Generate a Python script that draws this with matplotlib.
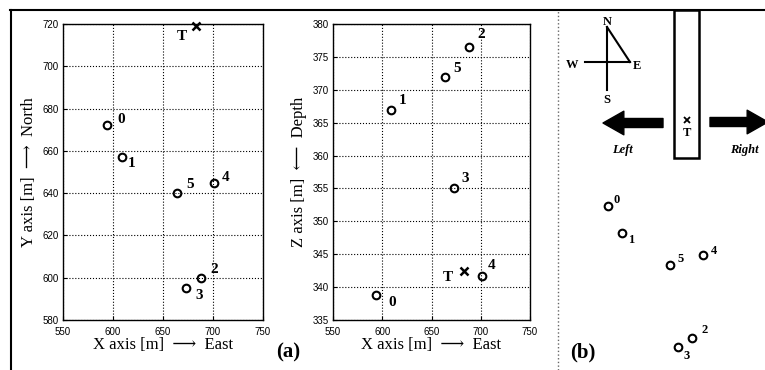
import matplotlib
matplotlib.use('Agg')
import matplotlib.pyplot as plt
from matplotlib.patches import Rectangle
from matplotlib.lines import Line2D

# sensor positions
ids = ['0', '1', '2', '3', '4', '5']
x_east = [594, 609, 688, 673, 701, 664]
y_north = [672, 657, 600, 595, 645, 640]
z_depth = [338.8, 367.0, 376.5, 355.0, 341.7, 371.9]
target_x = 683
target_y = 719
target_z = 342.4

x_ticks = [550, 600, 650, 700, 750]
y_ticks = [580, 600, 620, 640, 660, 680, 700, 720]
z_ticks = [335, 340, 345, 350, 355, 360, 365, 370, 375, 380]

# label offsets in pixels, per panel
off_xy = [(14, 6), (10, -6), (13, 8), (13, -7), (12, 5), (13, 9)]
off_xz = [(16, -7), (11, 9), (12, 13), (11, 10), (10, 10), (12, 9)]
off_b = [(8, 6), (10, -7), (13, 8), (8, -9), (11, 4), (10, 6)]

W, H = 765, 370
serif = ['Liberation Serif', 'DejaVu Serif']
tickfont = 'Liberation Sans'

fig = plt.figure(figsize=(W / 100, H / 100), dpi=100)


def fp(px, py):
    return (px / W, 1 - py / H)


def style_axes(ax):
    ax.grid(True, linestyle=':', color='k', linewidth=0.8)
    ax.tick_params(direction='in', length=3, labelsize=7)
    ax.tick_params(axis='x', pad=5)
    ax.tick_params(axis='y', pad=3)
    for lab in ax.get_xticklabels() + ax.get_yticklabels():
        lab.set_fontfamily(tickfont)
    for s in ax.spines.values():
        s.set_linewidth(1.0)


def plot_points(ax, xs, ys, offs, size=11):
    ax.plot(xs, ys, 'o', mfc='none', mec='k', ms=5.5, mew=1.5)
    for i, lab in enumerate(ids):
        ax.annotate(lab, (xs[i], ys[i]), xytext=offs[i], textcoords='offset pixels',
                    ha='center', va='center', fontsize=size, fontweight='bold',
                    family=serif)


# (a) left: X-Y
ax1 = fig.add_axes([63 / W, 1 - 320 / H, 200 / W, 296 / H])
plot_points(ax1, x_east, y_north, off_xy)
ax1.plot(target_x, target_y, 'x', color='k', ms=6, mew=1.8, clip_on=False)
ax1.annotate('T', (target_x, target_y), xytext=(-14, -10), textcoords='offset pixels',
             ha='center', va='center', fontsize=11, fontweight='bold', family=serif)
ax1.set_xlim(550, 750)
ax1.set_ylim(580, 720)
ax1.set_xticks(x_ticks)
ax1.set_yticks(y_ticks)
style_axes(ax1)
ax1.set_xlabel('X axis [m]  ⟶  East', fontsize=12, family=serif, labelpad=0)
ax1.set_ylabel('Y axis [m]  ⟶  North', fontsize=12, family=serif, labelpad=4)

# (a) right: X-Z
ax2 = fig.add_axes([333 / W, 1 - 320 / H, 197 / W, 296 / H])
plot_points(ax2, x_east, z_depth, off_xz)
ax2.plot(target_x, target_z, 'x', color='k', ms=6, mew=1.8)
ax2.annotate('T', (target_x, target_z), xytext=(-16, -6), textcoords='offset pixels',
             ha='center', va='center', fontsize=11, fontweight='bold', family=serif)
ax2.set_xlim(550, 750)
ax2.set_ylim(335, 380)
ax2.set_xticks(x_ticks)
ax2.set_yticks(z_ticks)
style_axes(ax2)
ax2.set_xlabel('X axis [m]  ⟶  East', fontsize=12, family=serif, labelpad=0)
ax2.set_ylabel('Z axis [m]  ⟵  Depth', fontsize=12, family=serif, labelpad=4)

fig.text(*fp(288, 352), '(a)', fontsize=15, fontweight='bold', family=serif,
         ha='center', va='center')

# (b) sketch, same x/y data in an invisible axes
axb = fig.add_axes([560 / W, 0, 205 / W, 1])
axb.set_xlim(539.5, 771)
axb.set_ylim(582.4, 784.6)
axb.axis('off')
plot_points(axb, x_east, y_north, off_b, size=9)
axb.plot(target_x, target_y, 'x', color='k', ms=4, mew=1.3)
axb.annotate('T', (target_x, target_y), xytext=(0, -13), textcoords='offset pixels',
             ha='center', va='center', fontsize=9, fontweight='bold', family=serif)

fig.text(*fp(583, 352), '(b)', fontsize=15, fontweight='bold', family=serif,
         ha='center', va='center')

# compass
for (a, b) in [((607, 27), (607, 90)), ((585, 62), (630, 62)), ((607, 27), (630, 62))]:
    fig.add_artist(Line2D([a[0] / W, b[0] / W], [1 - a[1] / H, 1 - b[1] / H],
                          color='k', lw=1.5, transform=fig.transFigure))
for lab, px, py in [('N', 607, 22), ('W', 572, 65), ('E', 637, 66), ('S', 607, 100)]:
    fig.text(*fp(px, py), lab, fontsize=9, fontweight='bold', family=serif,
             ha='center', va='center')

# borehole with target
fig.add_artist(Rectangle(fp(674, 158), 25 / W, 148 / H, fill=False, lw=1.8,
                         ec='k', transform=fig.transFigure))

# left / right arrows
arrow = dict(arrowstyle='simple,head_length=1.5,head_width=1.7,tail_width=0.65',
             color='k', shrinkA=0, shrinkB=0)
axb.annotate('', xy=fp(603, 123), xytext=fp(663, 123), xycoords='figure fraction',
             textcoords='figure fraction', arrowprops=arrow)
axb.annotate('', xy=fp(768, 122), xytext=fp(710, 122), xycoords='figure fraction',
             textcoords='figure fraction', arrowprops=arrow, annotation_clip=False)
fig.text(*fp(622, 150), 'Left', fontsize=9, style='italic', fontweight='bold',
         family=serif, ha='center', va='center')
fig.text(*fp(730, 150), 'Right', fontsize=9, style='italic', fontweight='bold',
         family=serif, ha='left', va='center')

# frame of the scanned figure
fig.add_artist(Line2D([10 / W, 1], [1 - 10 / H, 1 - 10 / H], color='k', lw=1.5))
fig.add_artist(Line2D([11 / W, 11 / W], [0, 1 - 10 / H], color='k', lw=1.5))
fig.add_artist(Line2D([558 / W, 558 / W], [0, 1 - 10 / H], color='0.4', lw=1.0,
                      linestyle=':'))

fig.savefig('out.png', dpi=100)
